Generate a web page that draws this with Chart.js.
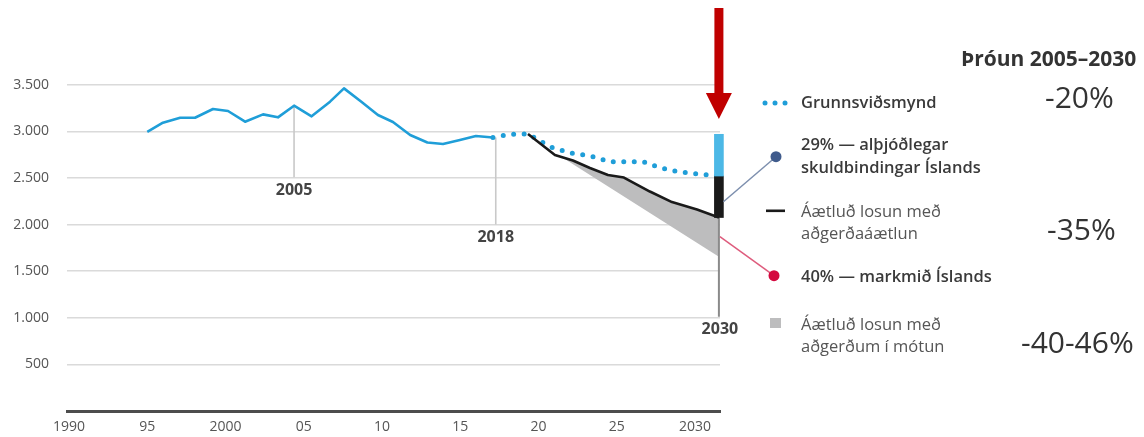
<!DOCTYPE html>
<html>
<head>
<meta charset="utf-8">
<script src="https://cdn.jsdelivr.net/npm/chart.js@4/dist/chart.umd.min.js"></script>
<style>
html,body{margin:0;padding:0;background:#fff;}
#wrap{position:relative;width:1144px;height:437px;overflow:hidden;font-family:"Open Sans",sans-serif;}
#c{position:absolute;left:0;top:0;}
.t{position:absolute;white-space:nowrap;}
.title{font-weight:700;font-size:21px;line-height:26px;color:#333;}
.lb{font-weight:600;font-size:16.5px;line-height:23px;color:#3a3a3a;}
.lr{font-weight:400;font-size:16.5px;line-height:22px;color:#555;}
.pc{font-weight:500;font-size:30px;line-height:36px;color:#333;}
</style>
</head>
<body>
<div id="wrap">
<canvas id="c" width="1144" height="437"></canvas>
<div class="t title" style="left:961px;top:45px;">Þróun 2005–2030</div>
<div class="t lb" style="left:801px;top:90px;">Grunnsviðsmynd</div>
<div class="t lb" style="left:801px;top:132px;">29% — alþjóðlegar<br>skuldbindingar Íslands</div>
<div class="t lr" style="left:801px;top:200px;">Áætluð losun með<br>aðgerðaáætlun</div>
<div class="t lb" style="left:801px;top:264px;">40% — markmið Íslands</div>
<div class="t lr" style="left:801px;top:313px;">Áætluð losun með<br>aðgerðum í mótun</div>
<div class="t pc" style="left:1045px;top:79px;">-20%</div>
<div class="t pc" style="left:1047px;top:211px;">-35%</div>
<div class="t pc" style="left:1021px;top:324px;">-40-46%</div>
</div>
<script>
// ---- data (x in axis-year units) ----
const histYears  = [1995.0,1996.0,1997.1,1998.05,1999.2,2000.16,2001.25,2002.4,2003.35,2004.38,2005.5,2006.68,2007.57,2008.66,2009.74,2010.7,2011.8,2012.9,2013.9,2014.98,2016.0,2017.09];
const histValues = [2995,3093,3147,3147,3240,3219,3104,3183,3151,3276,3162,3319,3462,3321,3176,3101,2961,2881,2865,2908,2951,2935];

const baseYears  = [2017.09,2018.18,2019.33,2020.73,2022.0,2023.35,2024.57,2025.97,2026.68,2027.76,2028.9,2030.2,2031.53];
const baseValues = [2935,2969,2972,2836,2771,2736,2675,2675,2675,2610,2568,2543,2521];

const planYears  = [2019.33,2021.05,2022.2,2023.29,2024.44,2025.46,2027.12,2028.53,2030.13,2031.53];
const planValues = [2972,2747,2688,2607,2532,2505,2355,2242,2162,2076];

const rangeYears     = [2021.5,2031.53];
const rangeLowValues = [2724,1656];

const barYear  = 2031.53;
const baseBar  = [2521,2969];
const planBar  = [2076,2521];
const target29 = 2245;
const target40 = 1870;

const markerYears  = [2004.38,2017.27,2031.53];
const markerTops   = [3276,2935,2076];
const markerBottoms= [2507,2000,1012];
const markerLabels = ['2005','2018','2030'];

const xTickValues = [1990,1995,2000,2005,2010,2015,2020,2025,2030];
const xTickLabels = ['1990','95','2000','05','10','15','20','25','2030'];
const yTickValues = [0,500,1000,1500,2000,2500,3000,3500];
const yTickLabels = ['','500','1.000','1.500','2.000','2.500','3.000','3.500'];

const BLUE='#1f9ed8', LBLUE='#4cb8e6', BLACK='#1a1a1a', GRAY='#bdbdbe';

const pts = (xs,ys)=>xs.map((x,i)=>({x:x,y:ys[i]}));

const datasets = [
  {type:'line',label:'hist',data:pts(histYears,histValues),borderColor:BLUE,borderWidth:2.6,pointRadius:0,tension:0,fill:false,order:3,borderJoinStyle:'round'},
  {type:'line',label:'Grunnsviðsmynd',data:pts(baseYears,baseValues),borderColor:BLUE,borderWidth:5,borderDash:[0,10.5],borderCapStyle:'round',pointRadius:0,tension:0,fill:false,order:2,clip:false},
  {type:'line',label:'aðgerðaáætlun',data:pts(planYears,planValues),borderColor:BLACK,borderWidth:2.6,pointRadius:0,tension:0,fill:false,order:1,clip:false,borderJoinStyle:'round'},
  {type:'line',label:'mótun',data:pts(rangeYears,rangeLowValues),borderColor:'rgba(0,0,0,0)',borderWidth:0,pointRadius:0,tension:0,fill:{target:2},backgroundColor:GRAY,order:10,clip:false},
  {type:'bar',label:'bar1',data:[{x:barYear,y:baseBar}],backgroundColor:LBLUE,barThickness:9,grouped:false,order:0,clip:false},
  {type:'bar',label:'bar2',data:[{x:barYear,y:planBar}],backgroundColor:BLACK,barThickness:9,grouped:false,order:0,clip:false}
];
markerYears.forEach((yr,i)=>{
  datasets.push({type:'line',label:'m'+i,data:[{x:yr,y:markerTops[i]},{x:yr,y:markerBottoms[i]}],
    borderColor: i===2?'#8a8a8a':'#c9c9c9',borderWidth:i===2?2:1.6,pointRadius:0,fill:false,order:8,clip:false});
});

const decor = {
  id:'decor',
  afterDatasetsDraw(chart){
    const ctx=chart.ctx, xs=chart.scales.x, ys=chart.scales.y;
    ctx.save();
    ctx.font='700 16px "Open Sans"';
    ctx.fillStyle='#444';
    ctx.textAlign='center';
    ctx.textBaseline='middle';
    markerYears.forEach((yr,i)=>{
      const x=xs.getPixelForValue(yr), y=ys.getPixelForValue(markerBottoms[i]);
      ctx.fillText(markerLabels[i], x+(i===2?1:0), y+13);
    });
    const bx=xs.getPixelForValue(barYear);
    ctx.fillStyle='#c00000';
    ctx.fillRect(bx-4.5,8,9,87);
    ctx.beginPath();ctx.moveTo(bx-13,93);ctx.lineTo(bx+13,93);ctx.lineTo(bx,119);ctx.closePath();ctx.fill();
    ctx.lineWidth=1.5;
    ctx.strokeStyle='#7d8fae';
    ctx.beginPath();ctx.moveTo(bx+4.5,ys.getPixelForValue(target29));ctx.lineTo(776,156.7);ctx.stroke();
    ctx.strokeStyle='#de5c7d';
    ctx.beginPath();ctx.moveTo(bx+1,ys.getPixelForValue(target40));ctx.lineTo(774,275.7);ctx.stroke();
    ctx.fillStyle=BLUE;
    [765,775,785].forEach(x=>{ctx.beginPath();ctx.arc(x,103,2.5,0,Math.PI*2);ctx.fill();});
    ctx.fillStyle='#405b8c';
    ctx.beginPath();ctx.arc(776,156.7,5.5,0,Math.PI*2);ctx.fill();
    ctx.fillStyle=BLACK;
    ctx.fillRect(766,209.5,19,2.6);
    ctx.fillStyle='#d4093f';
    ctx.beginPath();ctx.arc(774,275.7,5.5,0,Math.PI*2);ctx.fill();
    ctx.fillStyle=GRAY;
    ctx.fillRect(770,318,11,10);
    ctx.restore();
  }
};

new Chart(document.getElementById('c'),{
  type:'line',
  data:{datasets:datasets},
  options:{
    responsive:false,animation:false,devicePixelRatio:1,
    layout:{padding:{left:0,right:424,top:0,bottom:0}},
    plugins:{legend:{display:false},tooltip:{enabled:false}},
    scales:{
      x:{type:'linear',min:1989.87,max:2031.6,offset:false,
        afterBuildTicks:s=>{s.ticks=xTickValues.map(v=>({value:v}));},
        afterFit:s=>{s.height=26;s.paddingLeft=0;s.paddingRight=0;},
        grid:{display:false,drawTicks:false},
        border:{display:true,color:'#4d4d4d',width:3},
        ticks:{padding:8,color:'#555',font:{family:'"Open Sans"',size:14},maxRotation:0,autoSkip:false,
          callback:(v,i)=>xTickLabels[i]}
      },
      y:{type:'linear',min:0,max:4410,
        afterBuildTicks:s=>{s.ticks=yTickValues.map(v=>({value:v}));},
        afterFit:s=>{s.width=67;s.paddingTop=0;s.paddingBottom=0;},
        grid:{color:c=>c.tick&&c.tick.value===0?'rgba(0,0,0,0)':'#dadada',lineWidth:1.5,drawTicks:false},
        border:{display:false},
        ticks:{padding:18,color:'#555',font:{family:'"Open Sans"',size:14},
          callback:(v,i)=>yTickLabels[i]}
      }
    }
  },
  plugins:[decor]
});
</script>
</body>
</html>
